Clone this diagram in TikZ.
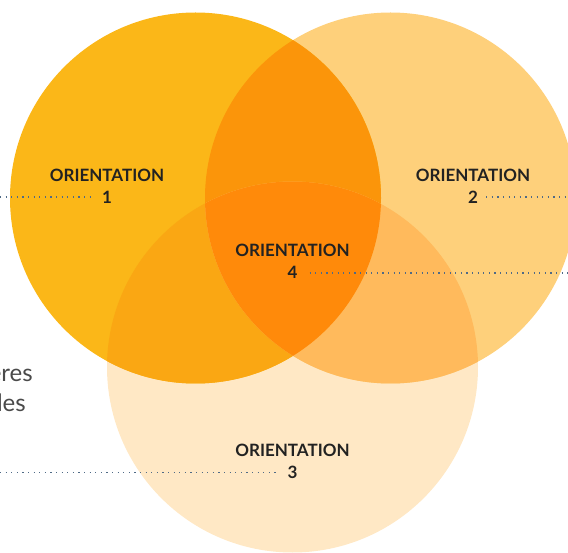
\documentclass[tikz,border=0pt]{standalone}
\usepackage{fontspec}
\setmainfont{Lato}
\usetikzlibrary{positioning}

\definecolor{oneonly}{HTML}{FBB718}
\definecolor{twoonly}{HTML}{FED07B}
\definecolor{threeonly}{HTML}{FFE8C5}
\definecolor{onetwo}{HTML}{FB950A}
\definecolor{onethree}{HTML}{FAA713}
\definecolor{twothree}{HTML}{FFBA5C}
\definecolor{allthree}{HTML}{FF8A0A}
\definecolor{textdark}{HTML}{222222}
\definecolor{textgrey}{HTML}{4A4A4A}
\definecolor{leadergrey}{HTML}{4F6A86}

\tikzset{
  orient/.style={font=\bfseries\fontsize{17}{17}\selectfont, text=textdark, inner sep=0pt},
  orientnum/.style={orient},
  leader/.style={draw=leadergrey, line width=1.2pt, dash pattern=on 1.2pt off 4.4pt},
  sidetext/.style={font=\fontsize{24}{24}\selectfont, text=textgrey, inner sep=0pt, anchor=base east},
}

\begin{document}
\begin{tikzpicture}[x=1pt,y=-1pt]
      \def\radius{185.5pt}
      \useasboundingbox (0,0) rectangle (568,553);

      \coordinate (one) at (195.5,198);
      \coordinate (two) at (390.5,198);
      \coordinate (three) at (292.5,367);

      % the three discs
      \fill[threeonly] (three) circle (\radius);
      \fill[twoonly] (two) circle (\radius);
      \fill[oneonly] (one) circle (\radius);

      % overlaps
      \begin{scope}
        \clip (one) circle (\radius);
        \fill[onetwo] (two) circle (\radius);
        \fill[onethree] (three) circle (\radius);
      \end{scope}
      \begin{scope}
        \clip (two) circle (\radius);
        \fill[twothree] (three) circle (\radius);
        \clip (three) circle (\radius);
        \fill[allthree] (one) circle (\radius);
      \end{scope}

      % labels
      \node[orientnum] (n1) at (107,197) {1};
      \node[orient, above=9pt of n1] (o1) {ORIENTATION};
      \node[orientnum] (n2) at (473,197) {2};
      \node[orient, above=9pt of n2] (o2) {ORIENTATION};
      \node[orientnum] (n4) at (292.5,272) {4};
      \node[orient, above=9pt of n4] (o4) {ORIENTATION};
      \node[orientnum] (n3) at (292.5,472) {3};
      \node[orient, above=9pt of n3] (o3) {ORIENTATION};

      \node[sidetext] (s1) at (33,382) {eres};
      \node[sidetext] (s2) at (26,411) {les};

      % leaders
      \coordinate (e1) at (0,197);
      \coordinate (e2) at (568,197);
      \coordinate (e4) at (568,273);
      \coordinate (e3) at (0,472.5);
      \draw[leader, shorten >=9pt] (e1) -- (n1.west |- e1);
      \draw[leader, shorten <=8pt] (n2.east |- e2) -- (e2);
      \draw[leader, shorten <=12pt] (n4.east |- e4) -- (e4);
      \draw[leader, shorten >=10pt] (e3) -- (n3.west |- e3);
    \end{tikzpicture}
\end{document}
